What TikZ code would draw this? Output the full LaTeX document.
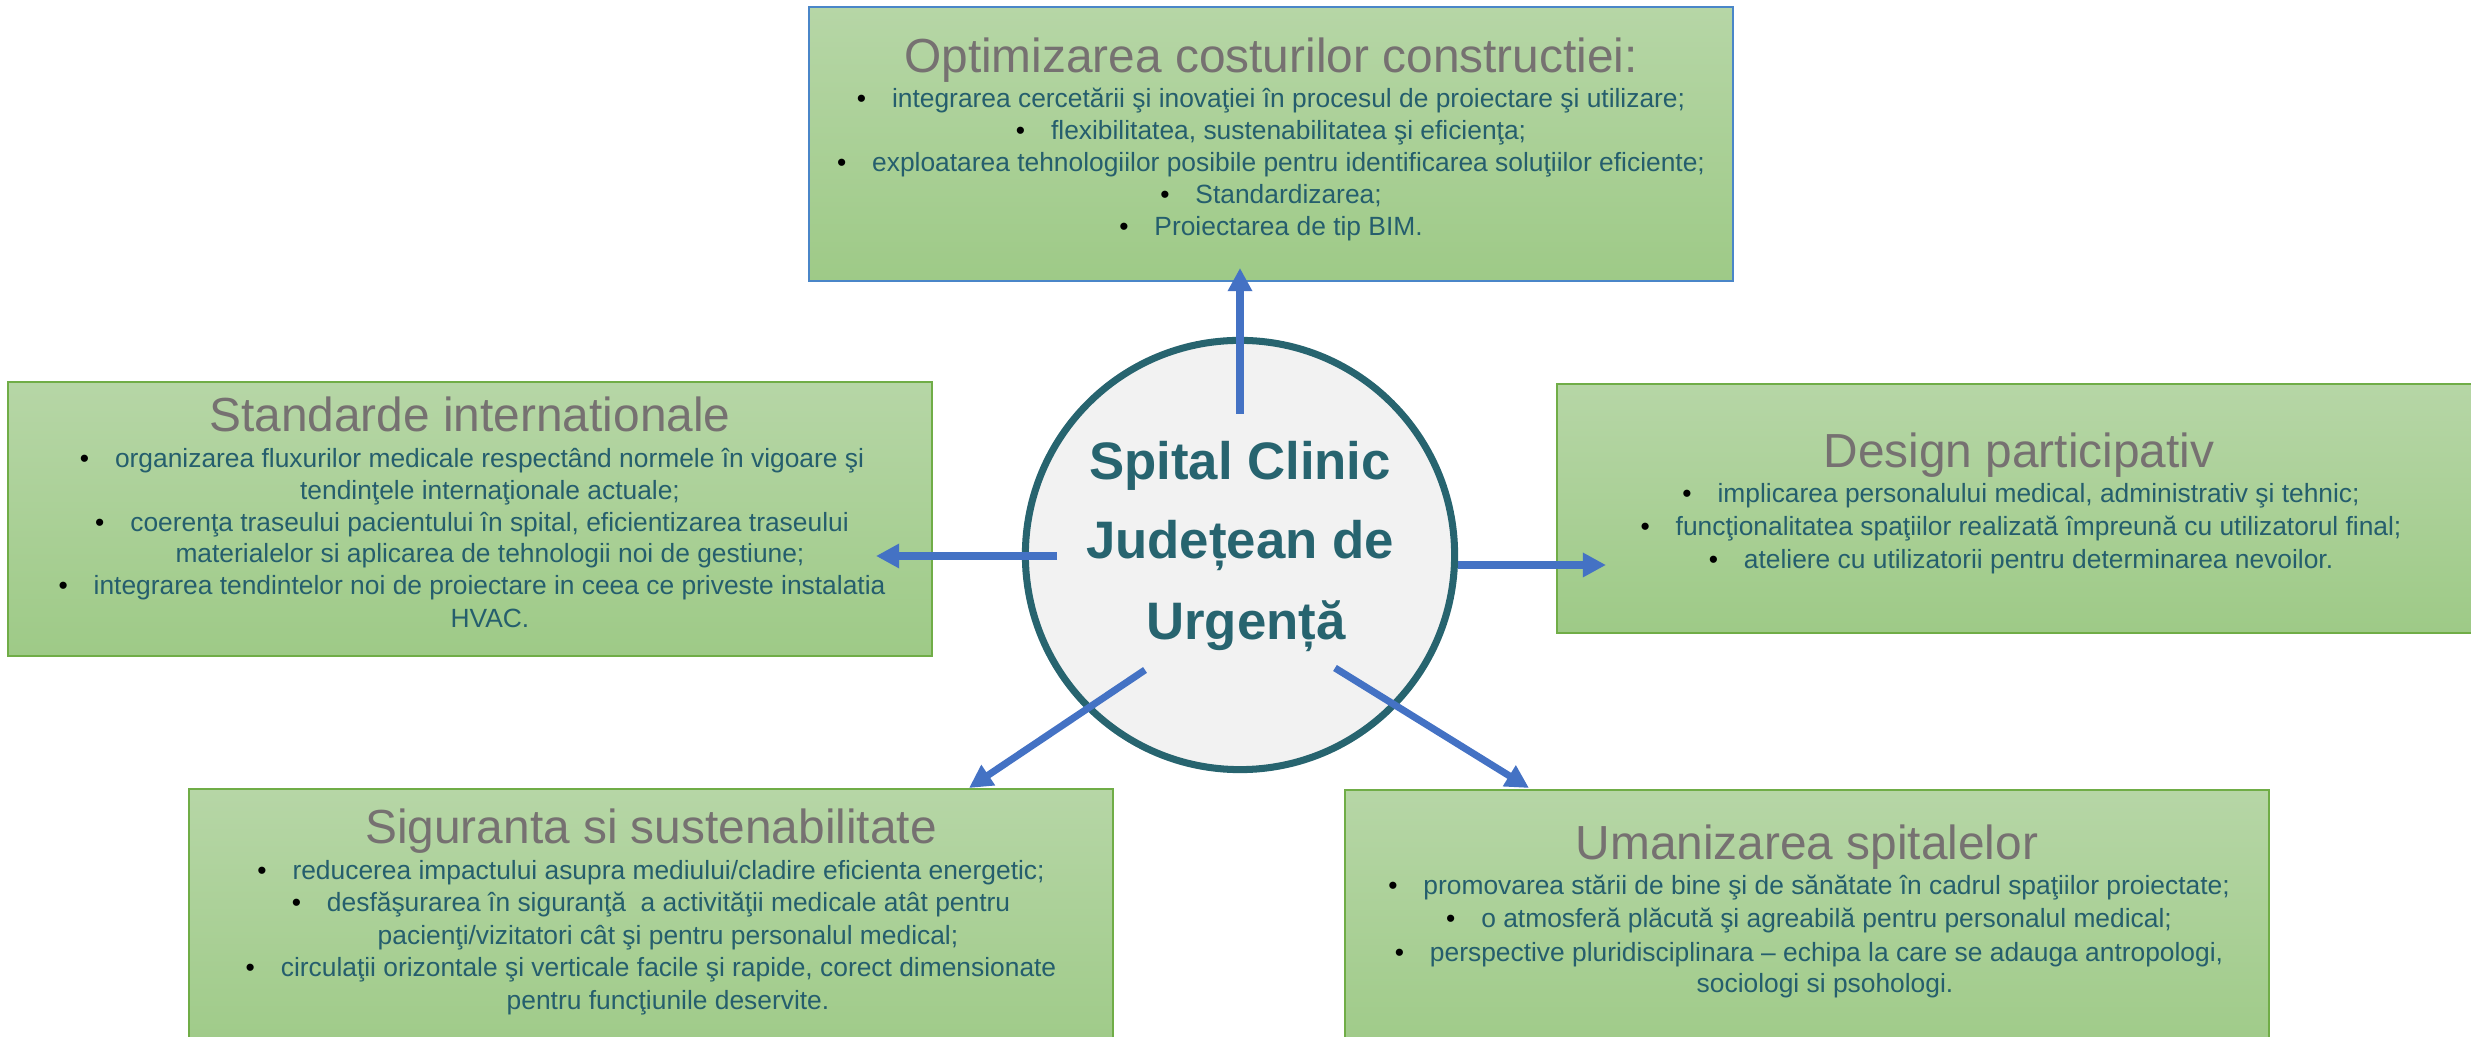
\documentclass[tikz,border=0pt]{standalone}
\usepackage{fontspec}
\setmainfont{Liberation Sans}
\usetikzlibrary{arrows.meta}
\definecolor{boxtop}{HTML}{B6D6A6}
\definecolor{boxbot}{HTML}{9ECA87}
\definecolor{boxline}{HTML}{70AD47}
\definecolor{topline}{HTML}{4A86C8}
\definecolor{ttlgray}{HTML}{767171}
\definecolor{bodyteal}{HTML}{255E6D}
\definecolor{circfill}{HTML}{F2F2F2}
\definecolor{circline}{HTML}{27646F}
\definecolor{arrblue}{HTML}{4472C4}
\newcommand\bodyfs{\fontsize{7.5}{9}\selectfont}
\newcommand\titlefs{\fontsize{13.6}{16}\selectfont}
\newcommand\circfs{\fontsize{15}{18}\bfseries\selectfont}
\newcommand\bu{\makebox[10pt][l]{\textcolor{black}{\textbullet}}}
\tikzset{
  box/.style={draw=boxline, line width=0.6pt, top color=boxtop, bottom color=boxbot,
    minimum width=9.24cm, minimum height=2.74cm, inner sep=0pt, outer sep=0pt},
  ttl/.style={anchor=base, text=ttlgray, font=\titlefs, inner sep=0pt},
  bul/.style={anchor=base, text=bodyteal, font=\bodyfs, inner sep=0pt},
  ctext/.style={anchor=base, text=circline, font=\circfs, inner sep=0pt},
  arr/.style={draw=arrblue, line width=2pt, -{Triangle[length=6.6pt,width=6.6pt]}},
}
\begin{document}
\begin{tikzpicture}[x=0.01cm,y=-0.01cm]
\useasboundingbox (0,0) rectangle (2471,1037);
\clip (0,0) rectangle (2471,1037);
% boxes
\node[box, draw=topline] (top) at (1271,144) {};
\node[box] (left) at (470,519) {};
\node[box, minimum height=2.49cm] (right) at (2019,508.5) {};
\node[box] (bl) at (651,926) {};
\node[box] (br) at (1807,927) {};
% top box text
\node[ttl] (t0) at (1271,73) {Optimizarea costurilor constructiei:};
\node[bul] (t1) at (1271,108) {\bu integrarea cercetării şi inovaţiei în procesul de proiectare şi utilizare;};
\node[bul] (t2) at (1271,140) {\bu flexibilitatea, sustenabilitatea şi eficienţa;};
\node[bul] (t3) at (1271,172) {\bu exploatarea tehnologiilor posibile pentru identificarea soluţiilor eficiente;};
\node[bul] (t4) at (1271,204) {\bu Standardizarea;};
\node[bul] (t5) at (1271,236) {\bu Proiectarea de tip BIM.};
% left box text
\node[ttl] (l0) at (470,432) {Standarde internationale};
\node[bul] (l1) at (472,468) {\bu organizarea fluxurilor medicale respectând normele în vigoare şi};
\node[bul] (l2) at (490,500) {tendinţele internaţionale actuale;};
\node[bul] (l3) at (472,532) {\bu coerenţa traseului pacientului în spital, eficientizarea traseului};
\node[bul] (l4) at (490,563) {materialelor si aplicarea de tehnologii noi de gestiune;};
\node[bul] (l5) at (472,595) {\bu integrarea tendintelor noi de proiectare in ceea ce priveste instalatia};
\node[bul] (l6) at (490,628) {HVAC.};
% right box text
\node[ttl] (r0) at (2019,468) {Design participativ};
\node[bul] (r1) at (2021,503) {\bu implicarea personalului medical, administrativ şi tehnic;};
\node[bul] (r2) at (2021,536) {\bu funcţionalitatea spaţiilor realizată împreună cu utilizatorul final;};
\node[bul] (r3) at (2021,569) {\bu ateliere cu utilizatorii pentru determinarea nevoilor.};
% bottom-left box text
\node[ttl] (b0) at (651,844) {Siguranta si sustenabilitate};
\node[bul] (b1) at (651,880) {\bu reducerea impactului asupra mediului/cladire eficienta energetic;};
\node[bul] (b2) at (651,912) {\bu desfăşurarea în siguranţă\ \ a activităţii medicale atât pentru};
\node[bul] (b3) at (668,945) {pacienţi/vizitatori cât şi pentru personalul medical;};
\node[bul] (b4) at (651,977) {\bu circulaţii orizontale şi verticale facile şi rapide, corect dimensionate};
\node[bul] (b5) at (668,1010) {pentru funcţiunile deservite.};
% bottom-right box text
\node[ttl] (u0) at (1807,860) {Umanizarea spitalelor};
\node[bul] (u1) at (1809,895) {\bu promovarea stării de bine şi de sănătate în cadrul spaţiilor proiectate;};
\node[bul] (u2) at (1809,928) {\bu o atmosferă plăcută şi agreabilă pentru personalul medical;};
\node[bul] (u3) at (1809,962) {\bu perspective pluridisciplinara – echipa la care se adauga antropologi,};
\node[bul] (u4) at (1825,993) {sociologi si psohologi.};
% centre circle
\node[circle, draw=circline, fill=circfill, line width=2pt, minimum size=4.29cm, inner sep=0pt] (c) at (1240,555) {};
\node[ctext] (c1) at (1240,480) {Spital Clinic};
\node[ctext] (c2) at (1240,559) {Județean de};
\node[ctext] (c3) at (1246,640) {Urgență};
% arrow ends
\coordinate (uS) at (1240,414); \coordinate (uE) at (1240,268);
\coordinate (lS) at (1057,556); \coordinate (lE) at (876,556);
\coordinate (rS) at (1458,565); \coordinate (rE) at (1606,565);
\coordinate (dlS) at (1145,670); \coordinate (dlE) at (969,788);
\coordinate (drS) at (1335,668); \coordinate (drE) at (1529,788);
\draw[arr] (uS) -- (uE);
\draw[arr] (lS) -- (lE);
\draw[arr] (rS) -- (rE);
\draw[arr] (dlS) -- (dlE);
\draw[arr] (drS) -- (drE);
\end{tikzpicture}
\end{document}
